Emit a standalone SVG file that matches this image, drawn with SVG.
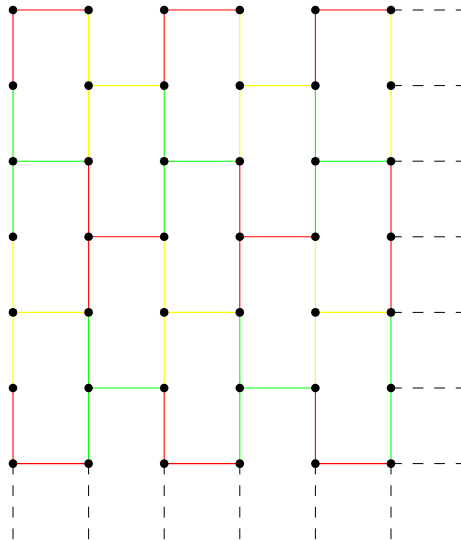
<svg xmlns="http://www.w3.org/2000/svg" width="461" height="540" viewBox="0 0 461 540">
<style>
line{stroke-width:1.1;fill:none}
.r{stroke:#ff0000}
.g{stroke:#00ff00}
.y{stroke:#ffff00}
.d{stroke:#000;stroke-width:1;stroke-dasharray:10.8 10.8}
.n{fill:#000}
</style>
<rect width="461" height="540" fill="#fff"/>
<g id="connectors">
<!-- verticals col0 -->
<line class="r" x1="13" y1="10" x2="13" y2="85.6"/>
<line class="g" x1="13" y1="85.6" x2="13" y2="236.8"/>
<line class="y" x1="13" y1="236.8" x2="13" y2="388"/>
<line class="r" x1="13" y1="388" x2="13" y2="463.6"/>
<!-- col1 -->
<line class="y" x1="88.6" y1="10" x2="88.6" y2="161.2"/>
<line class="r" x1="88.6" y1="161.2" x2="88.6" y2="312.4"/>
<line class="g" x1="88.6" y1="312.4" x2="88.6" y2="463.6"/>
<!-- col2 -->
<line class="r" x1="164.2" y1="10" x2="164.2" y2="85.6"/>
<line class="g" x1="164.2" y1="85.6" x2="164.2" y2="236.8"/>
<line class="y" x1="164.2" y1="236.8" x2="164.2" y2="388"/>
<line class="r" x1="164.2" y1="388" x2="164.2" y2="463.6"/>
<!-- col3 -->
<line class="y" x1="239.8" y1="10" x2="239.8" y2="161.2"/>
<line class="r" x1="239.8" y1="161.2" x2="239.8" y2="312.4"/>
<line class="g" x1="239.8" y1="312.4" x2="239.8" y2="463.6"/>
<!-- col4 -->
<line class="r" x1="315.4" y1="10" x2="315.4" y2="85.6"/>
<line class="g" x1="315.4" y1="85.6" x2="315.4" y2="236.8"/>
<line class="y" x1="315.4" y1="236.8" x2="315.4" y2="388"/>
<line class="r" x1="315.4" y1="388" x2="315.4" y2="463.6"/>
<!-- col5 -->
<line class="y" x1="391" y1="10" x2="391" y2="161.2"/>
<line class="r" x1="391" y1="161.2" x2="391" y2="312.4"/>
<line class="g" x1="391" y1="312.4" x2="391" y2="463.6"/>
<!-- horizontals -->
<line class="r" x1="13" y1="10" x2="88.6" y2="10"/>
<line class="r" x1="164.2" y1="10" x2="239.8" y2="10"/>
<line class="r" x1="315.4" y1="10" x2="391" y2="10"/>
<line class="y" x1="88.6" y1="85.6" x2="164.2" y2="85.6"/>
<line class="y" x1="239.8" y1="85.6" x2="315.4" y2="85.6"/>
<line class="g" x1="13" y1="161.2" x2="88.6" y2="161.2"/>
<line class="g" x1="164.2" y1="161.2" x2="239.8" y2="161.2"/>
<line class="g" x1="315.4" y1="161.2" x2="391" y2="161.2"/>
<line class="r" x1="88.6" y1="236.8" x2="164.2" y2="236.8"/>
<line class="r" x1="239.8" y1="236.8" x2="315.4" y2="236.8"/>
<line class="y" x1="13" y1="312.4" x2="88.6" y2="312.4"/>
<line class="y" x1="164.2" y1="312.4" x2="239.8" y2="312.4"/>
<line class="y" x1="315.4" y1="312.4" x2="391" y2="312.4"/>
<line class="g" x1="88.6" y1="388" x2="164.2" y2="388"/>
<line class="g" x1="239.8" y1="388" x2="315.4" y2="388"/>
<line class="r" x1="13" y1="463.6" x2="88.6" y2="463.6"/>
<line class="r" x1="164.2" y1="463.6" x2="239.8" y2="463.6"/>
<line class="r" x1="315.4" y1="463.6" x2="391" y2="463.6"/>
<!-- dashed -->
<line class="d" x1="391" y1="10" x2="466.6" y2="10"/>
<line class="d" x1="391" y1="85.6" x2="466.6" y2="85.6"/>
<line class="d" x1="391" y1="161.2" x2="466.6" y2="161.2"/>
<line class="d" x1="391" y1="236.8" x2="466.6" y2="236.8"/>
<line class="d" x1="391" y1="312.4" x2="466.6" y2="312.4"/>
<line class="d" x1="391" y1="388" x2="466.6" y2="388"/>
<line class="d" x1="391" y1="463.6" x2="466.6" y2="463.6"/>
<line class="d" x1="13" y1="463.6" x2="13" y2="539.2"/>
<line class="d" x1="88.6" y1="463.6" x2="88.6" y2="539.2"/>
<line class="d" x1="164.2" y1="463.6" x2="164.2" y2="539.2"/>
<line class="d" x1="239.8" y1="463.6" x2="239.8" y2="539.2"/>
<line class="d" x1="315.4" y1="463.6" x2="315.4" y2="539.2"/>
<line class="d" x1="391" y1="463.6" x2="391" y2="539.2"/>
</g>
<g id="n0-0"><circle class="n" cx="13" cy="10" r="4.3"/></g>
<g id="n1-0"><circle class="n" cx="88.6" cy="10" r="4.3"/></g>
<g id="n2-0"><circle class="n" cx="164.2" cy="10" r="4.3"/></g>
<g id="n3-0"><circle class="n" cx="239.8" cy="10" r="4.3"/></g>
<g id="n4-0"><circle class="n" cx="315.4" cy="10" r="4.3"/></g>
<g id="n5-0"><circle class="n" cx="391" cy="10" r="4.3"/></g>
<g id="n0-1"><circle class="n" cx="13" cy="85.6" r="4.3"/></g>
<g id="n1-1"><circle class="n" cx="88.6" cy="85.6" r="4.3"/></g>
<g id="n2-1"><circle class="n" cx="164.2" cy="85.6" r="4.3"/></g>
<g id="n3-1"><circle class="n" cx="239.8" cy="85.6" r="4.3"/></g>
<g id="n4-1"><circle class="n" cx="315.4" cy="85.6" r="4.3"/></g>
<g id="n5-1"><circle class="n" cx="391" cy="85.6" r="4.3"/></g>
<g id="n0-2"><circle class="n" cx="13" cy="161.2" r="4.3"/></g>
<g id="n1-2"><circle class="n" cx="88.6" cy="161.2" r="4.3"/></g>
<g id="n2-2"><circle class="n" cx="164.2" cy="161.2" r="4.3"/></g>
<g id="n3-2"><circle class="n" cx="239.8" cy="161.2" r="4.3"/></g>
<g id="n4-2"><circle class="n" cx="315.4" cy="161.2" r="4.3"/></g>
<g id="n5-2"><circle class="n" cx="391" cy="161.2" r="4.3"/></g>
<g id="n0-3"><circle class="n" cx="13" cy="236.8" r="4.3"/></g>
<g id="n1-3"><circle class="n" cx="88.6" cy="236.8" r="4.3"/></g>
<g id="n2-3"><circle class="n" cx="164.2" cy="236.8" r="4.3"/></g>
<g id="n3-3"><circle class="n" cx="239.8" cy="236.8" r="4.3"/></g>
<g id="n4-3"><circle class="n" cx="315.4" cy="236.8" r="4.3"/></g>
<g id="n5-3"><circle class="n" cx="391" cy="236.8" r="4.3"/></g>
<g id="n0-4"><circle class="n" cx="13" cy="312.4" r="4.3"/></g>
<g id="n1-4"><circle class="n" cx="88.6" cy="312.4" r="4.3"/></g>
<g id="n2-4"><circle class="n" cx="164.2" cy="312.4" r="4.3"/></g>
<g id="n3-4"><circle class="n" cx="239.8" cy="312.4" r="4.3"/></g>
<g id="n4-4"><circle class="n" cx="315.4" cy="312.4" r="4.3"/></g>
<g id="n5-4"><circle class="n" cx="391" cy="312.4" r="4.3"/></g>
<g id="n0-5"><circle class="n" cx="13" cy="388" r="4.3"/></g>
<g id="n1-5"><circle class="n" cx="88.6" cy="388" r="4.3"/></g>
<g id="n2-5"><circle class="n" cx="164.2" cy="388" r="4.3"/></g>
<g id="n3-5"><circle class="n" cx="239.8" cy="388" r="4.3"/></g>
<g id="n4-5"><circle class="n" cx="315.4" cy="388" r="4.3"/></g>
<g id="n5-5"><circle class="n" cx="391" cy="388" r="4.3"/></g>
<g id="n0-6"><circle class="n" cx="13" cy="463.6" r="4.3"/></g>
<g id="n1-6"><circle class="n" cx="88.6" cy="463.6" r="4.3"/></g>
<g id="n2-6"><circle class="n" cx="164.2" cy="463.6" r="4.3"/></g>
<g id="n3-6"><circle class="n" cx="239.8" cy="463.6" r="4.3"/></g>
<g id="n4-6"><circle class="n" cx="315.4" cy="463.6" r="4.3"/></g>
<g id="n5-6"><circle class="n" cx="391" cy="463.6" r="4.3"/></g>
</svg>
